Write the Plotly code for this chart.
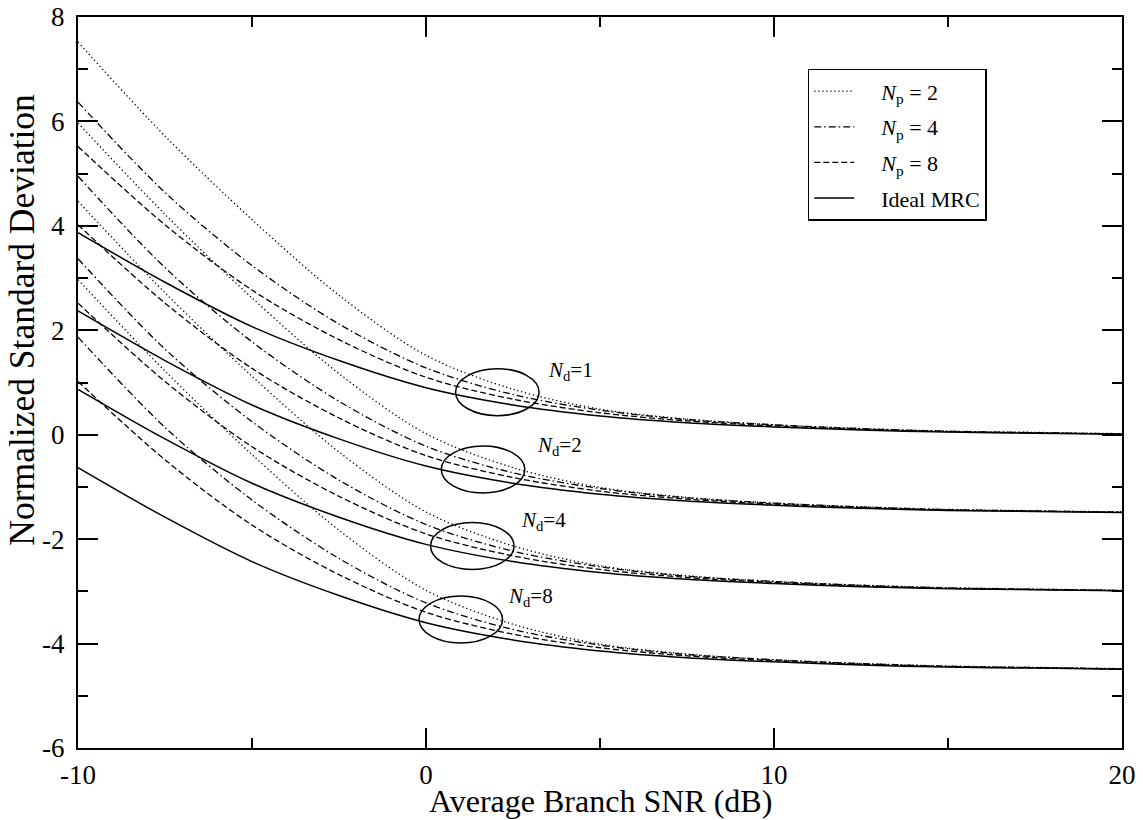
import plotly.graph_objects as go

# ---------------- data ----------------
snr_db = [-10, -7.5, -5, -2.5, 0, 2.5, 5, 7.5, 10, 12.5, 15, 17.5, 20]

# N_d = 1
nd1_np2 = [7.52, 5.72, 4.12, 2.67, 1.52, 0.87, 0.49, 0.30, 0.19, 0.12, 0.07, 0.045, 0.02]
nd1_np4 = [6.37, 4.64, 3.24, 2.12, 1.28, 0.77, 0.47, 0.29, 0.19, 0.115, 0.065, 0.04, 0.015]
nd1_np8 = [5.52, 4.02, 2.77, 1.82, 1.10, 0.68, 0.42, 0.265, 0.17, 0.103, 0.058, 0.035, 0.013]
nd1_ideal = [3.87, 2.92, 2.07, 1.42, 0.90, 0.57, 0.36, 0.23, 0.15, 0.09, 0.05, 0.03, 0.01]

# N_d = 2
nd2_np2 = [5.97, 4.22, 2.62, 1.17, 0.02, -0.63, -1.01, -1.20, -1.31, -1.38, -1.43, -1.455, -1.48]
nd2_np4 = [4.95, 3.20, 1.78, 0.64, -0.22, -0.73, -1.03, -1.21, -1.31, -1.385, -1.435, -1.46, -1.485]
nd2_np8 = [4.02, 2.52, 1.27, 0.32, -0.40, -0.82, -1.08, -1.235, -1.33, -1.397, -1.442, -1.465, -1.487]
nd2_ideal = [2.37, 1.42, 0.57, -0.08, -0.60, -0.93, -1.14, -1.27, -1.35, -1.41, -1.45, -1.47, -1.49]

# N_d = 4
nd4_np2 = [4.47, 2.72, 1.12, -0.33, -1.48, -2.13, -2.51, -2.70, -2.81, -2.88, -2.93, -2.955, -2.98]
nd4_np4 = [3.37, 1.64, 0.25, -0.87, -1.72, -2.23, -2.53, -2.71, -2.81, -2.885, -2.935, -2.96, -2.985]
nd4_np8 = [2.52, 1.02, -0.23, -1.18, -1.90, -2.32, -2.58, -2.735, -2.83, -2.897, -2.942, -2.965, -2.987]
nd4_ideal = [0.87, -0.08, -0.93, -1.58, -2.10, -2.43, -2.64, -2.77, -2.85, -2.91, -2.95, -2.97, -2.99]

# N_d = 8
nd8_np2 = [2.97, 1.22, -0.38, -1.83, -2.98, -3.63, -4.01, -4.20, -4.31, -4.38, -4.43, -4.455, -4.48]
nd8_np4 = [1.87, 0.14, -1.25, -2.37, -3.22, -3.73, -4.03, -4.21, -4.31, -4.385, -4.435, -4.46, -4.485]
nd8_np8 = [1.02, -0.48, -1.73, -2.68, -3.40, -3.82, -4.08, -4.235, -4.33, -4.397, -4.442, -4.465, -4.487]
nd8_ideal = [-0.63, -1.58, -2.43, -3.08, -3.60, -3.93, -4.14, -4.27, -4.35, -4.41, -4.45, -4.47, -4.49]

PAD = "\u00a0\u00a0\u00a0\u00a0"
series_names = [PAD + "<i>N</i><sub>p</sub> = 2", PAD + "<i>N</i><sub>p</sub> = 4",
                PAD + "<i>N</i><sub>p</sub> = 8", PAD + "Ideal MRC"]
groups = [
    [nd1_np2, nd1_np4, nd1_np8, nd1_ideal],
    [nd2_np2, nd2_np4, nd2_np8, nd2_ideal],
    [nd4_np2, nd4_np4, nd4_np8, nd4_ideal],
    [nd8_np2, nd8_np4, nd8_np8, nd8_ideal],
]
nd_labels = ["<i>N</i><sub>d</sub>=1", "<i>N</i><sub>d</sub>=2",
             "<i>N</i><sub>d</sub>=4", "<i>N</i><sub>d</sub>=8"]

x_ticks = [-10, 0, 10, 20]
x_tick_labels = ["-10", "0", "10", "20"]
y_ticks = [-6, -4, -2, 0, 2, 4, 6, 8]
y_tick_labels = ["-6", "-4", "-2", "0", "2", "4", "6", "8"]

# ---------------- styling ----------------
FONT = "Liberation Serif, Times New Roman, serif"
dashes = ["1.3px,2.7px", "7px,3px,1.5px,3px", "6px,3px", "solid"]
widths = [1.3, 1.3, 1.3, 1.5]

# ellipse annotations (centre / semi-axes in data units), label anchors
ell_cx = [2.05, 1.64, 1.33, 1.00]
ell_cy = [0.815, -0.665, -2.13, -3.54]
ell_rx = 1.2
ell_ry = 0.45
lab_x = [3.46, 3.12, 2.66, 2.31]
lab_y = [1.22, -0.22, -1.66, -3.10]

fig = go.Figure()
for gi, grp in enumerate(groups):
    for si, ys in enumerate(grp):
        fig.add_trace(go.Scatter(
            x=snr_db, y=ys, mode="lines",
            line=dict(color="black", width=widths[si], dash=dashes[si], shape="spline", smoothing=0.9),
            name=series_names[si], legendgroup=f"s{si}",
            showlegend=(gi == 0),
        ))

shapes = []
for cx, cy in zip(ell_cx, ell_cy):
    shapes.append(dict(type="circle", xref="x", yref="y",
                       x0=cx - ell_rx, x1=cx + ell_rx, y0=cy - ell_ry, y1=cy + ell_ry,
                       line=dict(color="black", width=1.5)))

annotations = []
for lx, ly, txt in zip(lab_x, lab_y, nd_labels):
    annotations.append(dict(x=lx, y=ly, xref="x", yref="y", text=txt, showarrow=False,
                            xanchor="left", yanchor="middle",
                            font=dict(family=FONT, size=21, color="black")))
annotations.append(dict(x=0.5, y=0, xref="paper", yref="paper", yshift=-53,
                        text="Average Branch SNR (dB)", showarrow=False,
                        xanchor="center", yanchor="middle",
                        font=dict(family=FONT, size=32, color="black")))
annotations.append(dict(x=0, y=0.586, xref="paper", yref="paper", xshift=-56,
                        text="Normalized Standard Deviation", showarrow=False, textangle=-90,
                        xanchor="center", yanchor="middle",
                        font=dict(family=FONT, size=35.5, color="black")))

axis_common = dict(
    showline=True, linecolor="black", linewidth=2, mirror="ticks",
    ticks="inside", ticklen=20, tickwidth=1.5, tickcolor="black",
    showgrid=False, zeroline=False, automargin=False,
    tickfont=dict(family=FONT, size=27, color="black"),
)

fig.update_layout(
    width=1143, height=820,
    margin=dict(l=78, r=21, t=17, b=72),
    paper_bgcolor="white", plot_bgcolor="white",
    xaxis=dict(range=[-10, 20], tickvals=x_ticks, ticktext=x_tick_labels,
               minor=dict(ticks="inside", ticklen=10, dtick=5, tickwidth=1.5, tickcolor="black"),
               ticklabelstandoff=2, **axis_common),
    yaxis=dict(range=[-6, 8], tickvals=y_ticks, ticktext=y_tick_labels,
               minor=dict(ticks="inside", ticklen=10, dtick=1, tickwidth=1.5, tickcolor="black"),
               ticklabelstandoff=6, **axis_common),
    legend=dict(x=0.699, y=0.929, xanchor="left", yanchor="top",
                bgcolor="white", bordercolor="black", borderwidth=1.5,
                font=dict(family=FONT, size=22, color="black"),
                tracegroupgap=4, itemwidth=40),
    shapes=shapes, annotations=annotations,
    showlegend=True,
)

fig.write_html("out.html", config={"displayModeBar": False},
               post_script="document.body.style.margin='0';document.body.style.padding='0';")
